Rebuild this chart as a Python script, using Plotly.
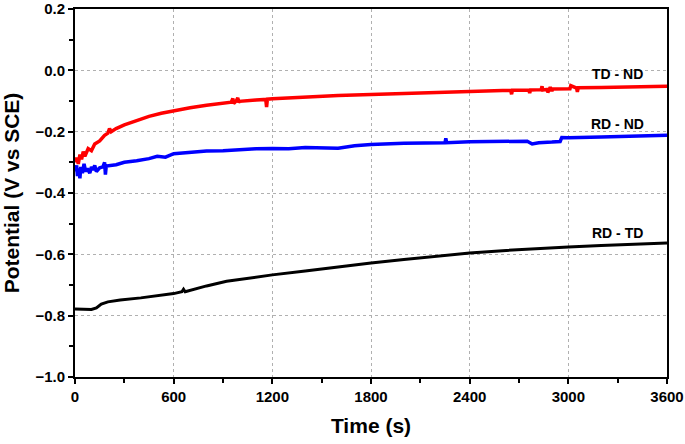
import plotly.graph_objects as go

# TD - ND (red)
td_nd_t = [0, 10, 20, 30, 40, 50, 60, 80, 100, 120, 150, 180, 200, 210, 220, 250, 300, 375, 450,
           525, 600, 700, 800, 900, 950, 960, 965, 980, 990, 995, 1000, 1100, 1160, 1165, 1170,
           1200, 1400, 1600, 1800, 2000, 2200, 2400, 2600, 2650, 2655, 2660, 2760, 2765, 2770,
           2835, 2840, 2845, 2870, 2875, 2890, 2900, 2905, 3010, 3015, 3050, 3055, 3060, 3200,
           3400, 3600]
td_nd_v = [-0.300, -0.285, -0.305, -0.275, -0.290, -0.265, -0.280, -0.255, -0.262, -0.240, -0.230,
           -0.212, -0.205, -0.190, -0.200, -0.190, -0.178, -0.163, -0.150, -0.140, -0.132, -0.122,
           -0.114, -0.107, -0.104, -0.092, -0.108, -0.100, -0.090, -0.105, -0.101, -0.097, -0.095,
           -0.120, -0.094, -0.093, -0.087, -0.082, -0.079, -0.075, -0.072, -0.069, -0.066, -0.066,
           -0.078, -0.065, -0.064, -0.074, -0.064, -0.063, -0.052, -0.064, -0.062, -0.072, -0.055,
           -0.068, -0.061, -0.060, -0.050, -0.058, -0.070, -0.057, -0.056, -0.054, -0.052]

# RD - ND (blue)
rd_nd_t = [0, 10, 15, 20, 30, 35, 45, 55, 65, 75, 90, 100, 110, 120, 130, 150, 170, 180, 185, 190,
           250, 300, 375, 450, 500, 550, 600, 650, 700, 800, 900, 1000, 1100, 1200, 1300, 1400,
           1500, 1600, 1700, 1800, 2000, 2200, 2250, 2255, 2260, 2400, 2500, 2600, 2750, 2780,
           2820, 2900, 2950, 2960, 3000, 3200, 3400, 3600]
rd_nd_v = [-0.330, -0.310, -0.345, -0.320, -0.352, -0.315, -0.335, -0.305, -0.330, -0.320, -0.335,
           -0.315, -0.325, -0.310, -0.330, -0.318, -0.315, -0.300, -0.340, -0.312, -0.308, -0.300,
           -0.295, -0.288, -0.280, -0.283, -0.272, -0.270, -0.268, -0.263, -0.262, -0.258, -0.256,
           -0.255, -0.256, -0.252, -0.253, -0.254, -0.246, -0.242, -0.238, -0.235, -0.236, -0.222,
           -0.236, -0.233, -0.232, -0.230, -0.231, -0.240, -0.236, -0.234, -0.232, -0.219, -0.220,
           -0.217, -0.214, -0.212]

# RD - TD (black)
rd_td_t = [0, 50, 100, 130, 160, 200, 275, 400, 517, 600, 650, 660, 670, 800, 922, 1050, 1200,
           1400, 1600, 1800, 2000, 2200, 2400, 2600, 2800, 3000, 3200, 3400, 3600]
rd_td_v = [-0.778, -0.780, -0.780, -0.775, -0.762, -0.755, -0.749, -0.742, -0.735, -0.728, -0.722,
           -0.714, -0.722, -0.703, -0.688, -0.678, -0.667, -0.654, -0.640, -0.628, -0.617, -0.606,
           -0.596, -0.588, -0.581, -0.576, -0.571, -0.566, -0.563]

labels = ["TD - ND", "RD - ND", "RD - TD"]
label_x = [3296, 3300, 3300]
label_y = [-0.013, -0.176, -0.530]

font_family = "Arial, Liberation Sans, sans-serif"

fig = go.Figure()
fig.add_trace(go.Scatter(x=td_nd_t, y=td_nd_v, mode="lines", line=dict(color="#ff0000", width=3.5)))
fig.add_trace(go.Scatter(x=rd_nd_t, y=rd_nd_v, mode="lines", line=dict(color="#0000ff", width=3.5)))
fig.add_trace(go.Scatter(x=rd_td_t, y=rd_td_v, mode="lines", line=dict(color="#000000", width=3)))

for txt, lx, ly in zip(labels, label_x, label_y):
    fig.add_annotation(x=lx, y=ly, text="<b>" + txt + "</b>", showarrow=False,
                       font=dict(family=font_family, size=14, color="black"))

axis_common = dict(
    showline=True, linecolor="black", linewidth=2, mirror=True,
    ticks="outside", ticklen=5, tickwidth=2, tickcolor="black",
    showgrid=True, gridcolor="#b0b0b0", griddash="dot", gridwidth=1,
    zeroline=False, automargin=False, ticklabeloverflow="allow",
    tickfont=dict(family=font_family, size=15, color="black", weight="bold"),
)

fig.update_xaxes(
    range=[0, 3600], tickvals=[0, 600, 1200, 1800, 2400, 3000, 3600],
    minor=dict(tickvals=[300, 900, 1500, 2100, 2700, 3300], ticks="outside", ticklen=4,
               tickwidth=1.5, tickcolor="black", showgrid=False),
    title=dict(text="<b>Time (s)</b>", font=dict(family=font_family, size=21, color="black"), standoff=14),
    **axis_common,
)
fig.update_yaxes(
    range=[-1.0, 0.2], tickvals=[-1.0, -0.8, -0.6, -0.4, -0.2, 0.0, 0.2], tickformat=".1f",
    minor=dict(tickvals=[-0.9, -0.7, -0.5, -0.3, -0.1, 0.1], ticks="outside", ticklen=4,
               tickwidth=1.5, tickcolor="black", showgrid=False),
    title=dict(text="<b>Potential (V vs SCE)</b>", font=dict(family=font_family, size=21, color="black"), standoff=10),
    **axis_common,
)

fig.update_layout(
    width=685, height=444,
    margin=dict(l=75, r=18, t=9, b=67),
    showlegend=False,
    plot_bgcolor="white", paper_bgcolor="white",
)

# the page body has a default 8px margin; drop it so the figure sits at the corner
fig.write_html("out.html", config={"displayModeBar": False},
               post_script="document.body.style.margin = '0';")
